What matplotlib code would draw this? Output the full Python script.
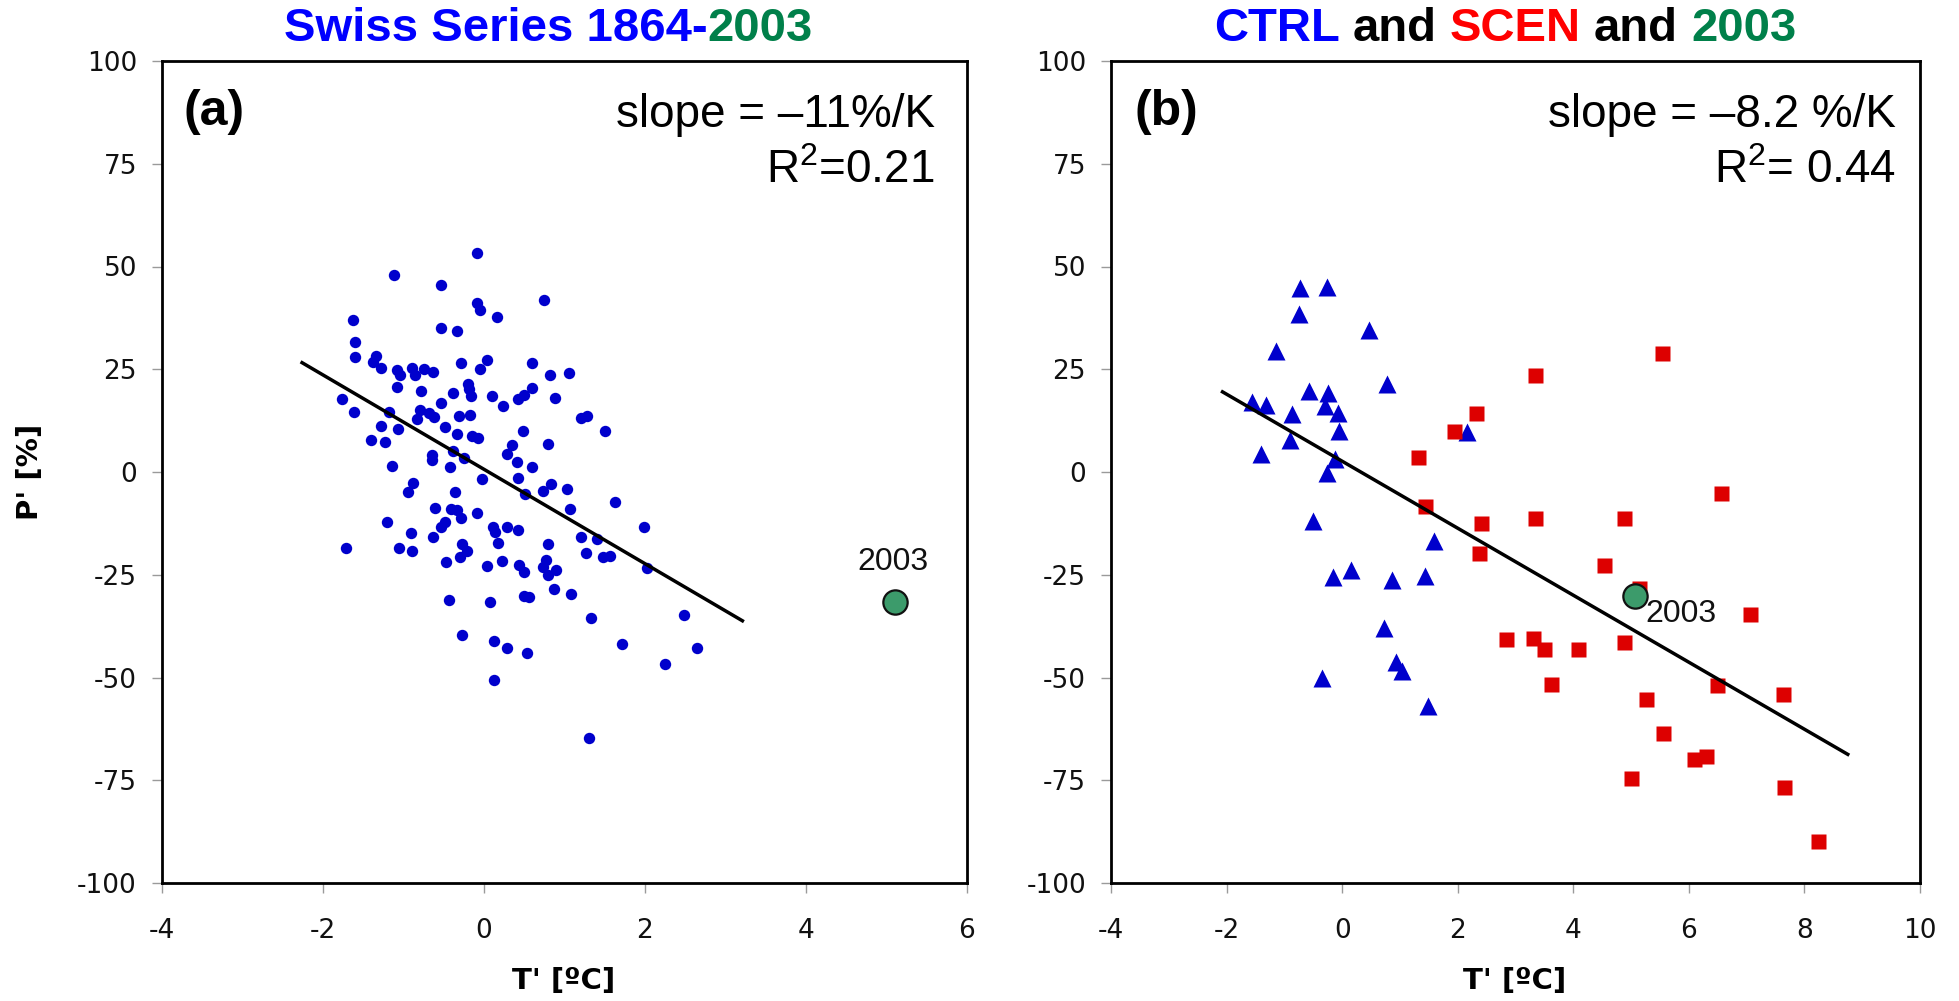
import matplotlib
matplotlib.use('Agg')
import matplotlib.pyplot as plt

plt.rcParams['axes.unicode_minus'] = False
plt.rcParams['mathtext.default'] = 'regular'

# ---------------- data ----------------
# Panel (a): Swiss series 1864-2002 summer anomalies
swiss_T = [-0.09, -1.12, -0.53, -0.09, -0.05, 0.75, 0.16, -1.63, -0.54, -0.34,
           -1.60, -1.60, -1.34, -1.38, -1.28, -1.08, -1.04, -0.90, -0.86, -0.75,
           -0.63, -0.28, 0.04, -0.05, 0.60, 0.82, 1.05, -1.08, -0.78, -0.39,
           -0.20, -0.19, -0.16, 0.10, 0.23, 0.42, 0.50, 0.60, 0.88, -1.76,
           -1.62, -1.18, -0.54, -0.80, -0.68, -0.62, -0.83, -0.31, -0.18, 1.20,
           1.28, -1.28, -1.07, -0.48, -0.33, -0.15, -0.07, 0.49, 1.50, -1.40,
           -1.23, 0.35, 0.79, -0.38, -0.64, -0.64, -0.25, 0.29, 0.41, -1.14,
           -0.42, 0.60, -0.88, -0.94, -0.02, 0.42, 0.83, 0.73, 0.51, -0.36,
           1.03, 1.63, 1.07, -0.61, -0.41, -0.33, -0.09, -0.28, -1.20, -0.49,
           -0.53, 0.11, 0.14, 0.28, 0.42, -0.91, -0.63, 1.99, 1.21, 1.40,
           0.17, 0.79, -0.27, -0.21, -1.71, -1.05, -0.89, 1.27, 1.48, 1.56,
           -0.47, -0.30, 0.22, 0.04, 0.43, 0.50, 0.77, 0.73, 0.79, 0.89,
           2.03, 0.87, 1.08, 0.50, 0.56, -0.43, 0.07, 1.33, 2.48, -0.27,
           0.12, 0.28, 0.53, 1.72, 2.65, 2.25, 0.12, 1.31]
swiss_P = [53.4, 47.9, 45.6, 41.1, 39.5, 41.9, 37.8, 37.0, 35.1, 34.2,
           31.7, 27.9, 28.3, 26.7, 25.3, 24.7, 23.6, 25.3, 23.6, 25.1,
           24.3, 26.6, 27.3, 25.1, 26.5, 23.6, 24.1, 20.8, 19.8, 19.3,
           21.5, 20.2, 18.4, 18.4, 16.0, 17.8, 18.8, 20.5, 18.1, 17.8,
           14.6, 14.6, 16.8, 15.1, 14.4, 13.4, 12.8, 13.7, 13.8, 13.2,
           13.7, 11.3, 10.5, 10.9, 9.2, 8.7, 8.3, 10.0, 10.0, 7.7,
           7.3, 6.5, 6.9, 5.1, 4.1, 2.8, 3.4, 4.3, 2.4, 1.4,
           1.2, 1.2, -2.7, -4.9, -1.8, -1.4, -3.0, -4.6, -5.3, -4.8,
           -4.2, -7.3, -9.1, -8.7, -9.1, -9.3, -9.9, -11.3, -12.1, -12.1,
           -13.4, -13.4, -14.6, -13.4, -14.2, -14.8, -15.8, -13.4, -15.8, -16.4,
           -17.2, -17.4, -17.6, -19.2, -18.5, -18.5, -19.3, -19.8, -20.6, -20.4,
           -21.9, -20.8, -21.7, -22.9, -22.7, -24.3, -21.5, -23.2, -25.1, -23.9,
           -23.3, -28.5, -29.6, -30.2, -30.5, -31.2, -31.6, -35.5, -34.7, -39.6,
           -41.0, -42.8, -44.0, -41.8, -42.8, -46.6, -50.5, -64.6]
y2003_T = 5.1
y2003_P = -31.6
fit_a_T = [-2.26, 3.21]
fit_a_P = [26.6, -36.2]

# Panel (b): model CTRL (triangles) and SCEN (squares)
ctrl_T = [-0.73, -0.27, -0.74, 0.47, -1.15, 0.77, -0.57, -0.24, -1.56, -1.32,
          -0.29, -0.86, -0.08, -0.06, -0.90, 2.16, -1.41, -0.12, -0.26, -0.50,
          1.59, -0.15, 0.15, 0.87, 1.44, 0.72, 0.94, 1.04, -0.35, 1.49]
ctrl_P = [44.7, 45.1, 38.4, 34.6, 29.5, 21.3, 19.8, 19.3, 17.0, 16.2,
          16.0, 14.2, 14.4, 9.9, 7.9, 9.7, 4.5, 3.1, -0.3, -11.9,
          -16.7, -25.5, -23.9, -26.3, -25.2, -38.0, -46.3, -48.3, -50.2, -57.0]
scen_T = [3.33, 2.32, 1.93, 1.32, 1.44, 2.41, 3.34, 2.37, 2.84, 3.30,
          3.49, 5.53, 6.55, 4.88, 4.54, 5.14, 7.06, 4.08, 4.87, 3.61,
          5.26, 6.48, 7.63, 5.56, 6.09, 6.30, 5.00, 7.65, 8.24]
scen_P = [23.5, 14.4, 10.0, 3.7, -8.3, -12.3, -11.1, -19.6, -40.6, -40.4,
          -43.0, 29.0, -5.2, -11.2, -22.6, -28.3, -34.5, -43.0, -41.3, -51.5,
          -55.3, -51.9, -54.0, -63.5, -69.9, -69.2, -74.4, -76.6, -89.8]
b2003_T = 5.07
b2003_P = -30.1
fit_b_T = [-2.07, 8.75]
fit_b_P = [19.5, -68.7]

yticks = [-100, -75, -50, -25, 0, 25, 50, 75, 100]
xticks_a = [-4, -2, 0, 2, 4, 6]
xticks_b = [-4, -2, 0, 2, 4, 6, 8, 10]

# ---------------- figure ----------------
W, H = 1959, 1001
fig = plt.figure(figsize=(W / 100, H / 100), dpi=100)
axa = fig.add_axes([162 / W, 1 - 883 / H, 805 / W, 822 / H])
axb = fig.add_axes([1111 / W, 1 - 883 / H, 809 / W, 822 / H])

tick_font = 'DejaVu Sans'
txt_font = ['Liberation Sans', 'DejaVu Sans']

for ax, xt in ((axa, xticks_a), (axb, xticks_b)):
    for sp in ax.spines.values():
        sp.set_linewidth(2.0)
        sp.set_color('black')
    ax.set_ylim(-100, 100)
    ax.set_yticks(yticks)
    ax.set_xticks(xt)
    ax.set_xlim(xt[0], xt[-1])
    ax.tick_params(direction='out', length=7, width=1, color='#9a9a9a',
                   labelsize=19, labelcolor='#111111')
    ax.tick_params(axis='x', pad=18)
    ax.tick_params(axis='y', pad=11)
    for lab in ax.get_xticklabels() + ax.get_yticklabels():
        lab.set_family(tick_font)

# panel (a)
axa.plot(swiss_T, swiss_P, 'o', ms=8.2, color='#0000CC', mec='none', zorder=2)
axa.plot(fit_a_T, fit_a_P, '-', color='black', lw=2.5, zorder=3)
axa.plot([y2003_T], [y2003_P], 'o', ms=17.5, color='#3C9B6B', mec='#111111',
         mew=1.6, zorder=4)
axa.text(5.08, -21.9, '2003', ha='center', va='center', fontsize=23,
         family=txt_font, color='#111111')
axa.text(0.027, 0.938, '(a)', transform=axa.transAxes, ha='left', va='center',
         fontsize=36, fontweight='bold', family=txt_font)
axa.text(0.960, 0.934, 'slope = \u201311%/K', transform=axa.transAxes,
         ha='right', va='center', fontsize=33, family=txt_font)
axa.text(0.960, 0.866, 'R$^{2}$=0.21', transform=axa.transAxes,
         ha='right', va='center', fontsize=33, family=txt_font)

# panel (b)
axb.plot(ctrl_T, ctrl_P, '^', ms=12.5, color='#0000CC', mec='none', zorder=2)
axb.plot(scen_T, scen_P, 's', ms=10.8, color='#DD0000', mec='none', zorder=2)
axb.plot(fit_b_T, fit_b_P, '-', color='black', lw=2.5, zorder=3)
axb.plot([b2003_T], [b2003_P], 'o', ms=17.5, color='#3C9B6B', mec='#111111',
         mew=1.6, zorder=4)
axb.text(5.86, -34.5, '2003', ha='center', va='center', fontsize=23,
         family=txt_font, color='#111111')
axb.text(0.029, 0.938, '(b)', transform=axb.transAxes, ha='left', va='center',
         fontsize=36, fontweight='bold', family=txt_font)
axb.text(0.970, 0.934, 'slope = \u20138.2 %/K', transform=axb.transAxes,
         ha='right', va='center', fontsize=33, family=txt_font)
axb.text(0.970, 0.866, 'R$^{2}$= 0.44', transform=axb.transAxes,
         ha='right', va='center', fontsize=33, family=txt_font)

# axis labels
fig.text(30 / W, 1 - 472 / H, "P' [%]", rotation=90, ha='center', va='center',
         fontsize=21, fontweight='bold', family=tick_font)
fig.text(564 / W, 1 - 981 / H, "T' [ºC]", ha='center', va='center',
         fontsize=21, fontweight='bold', family=tick_font)
fig.text(1515 / W, 1 - 981 / H, "T' [ºC]", ha='center', va='center',
         fontsize=21, fontweight='bold', family=tick_font)

# multi-coloured titles
fig.canvas.draw()
renderer = fig.canvas.get_renderer()


def colour_title(parts, xc_px, y_frac, size=34):
    """parts: (text, colour, add_space_after)"""
    kw = dict(fontsize=size, fontweight='bold', family=txt_font, va='center', ha='left')
    probe = fig.text(0, 0, 'a a', **kw)
    w2 = probe.get_window_extent(renderer).width
    probe.set_text('aa')
    w1 = probe.get_window_extent(renderer).width
    probe.remove()
    space = w2 - w1
    items = []
    total = 0
    for s, c, sp in parts:
        t = fig.text(0, y_frac, s, color=c, **kw)
        w = t.get_window_extent(renderer).width
        gap = space if sp else 0
        items.append((t, w, gap))
        total += w + gap
    x = xc_px - total / 2
    for t, w, gap in items:
        t.set_x(x / W)
        x += w + gap


colour_title([('Swiss Series 1864-', '#0000FF', False),
              ('2003', '#00804A', False)], 548, 1 - 29 / H)
colour_title([('CTRL', '#0000FF', True), ('and', 'black', True),
              ('SCEN', '#FF0000', True), ('and', 'black', True),
              ('2003', '#00804A', False)], 1505, 1 - 29 / H)

fig.savefig('out.png', dpi=100)
